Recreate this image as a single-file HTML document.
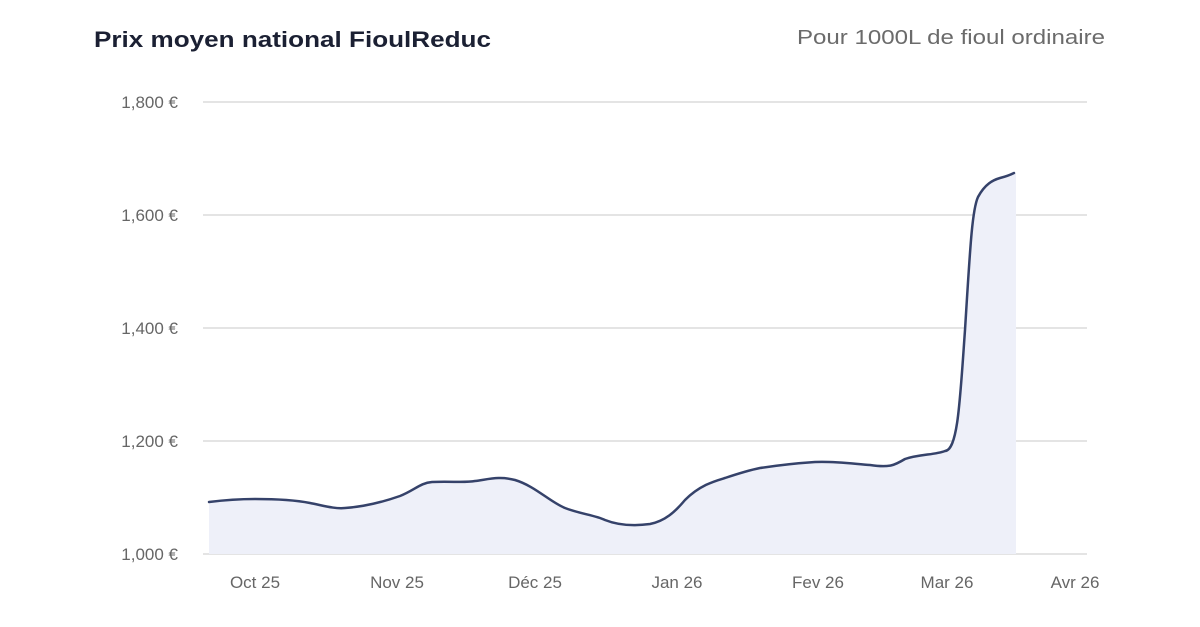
<!DOCTYPE html>
<html><head><meta charset="utf-8"><style>
html,body{margin:0;padding:0;background:#fff;width:1200px;height:627px;overflow:hidden}
svg{display:block}
</style></head><body>
<svg width="1200" height="627" viewBox="0 0 1200 627" xmlns="http://www.w3.org/2000/svg">
<text x="94" y="47" font-family="Liberation Sans, sans-serif" font-size="22" font-weight="bold" fill="#1b2033" textLength="397" lengthAdjust="spacingAndGlyphs">Prix moyen national FioulReduc</text>
<text x="797" y="44" font-family="Liberation Sans, sans-serif" font-size="20" fill="#6b6b6b" textLength="308" lengthAdjust="spacingAndGlyphs">Pour 1000L de fioul ordinaire</text>
<g stroke="#e4e4e4" stroke-width="2">
<line x1="203" y1="102" x2="1087" y2="102"/>
<line x1="203" y1="215" x2="1087" y2="215"/>
<line x1="203" y1="328" x2="1087" y2="328"/>
<line x1="203" y1="441" x2="1087" y2="441"/>
<line x1="203" y1="554" x2="1087" y2="554"/>
</g>
<g font-family="Liberation Sans, sans-serif" font-size="17" fill="#666" text-anchor="end">
<text x="178" y="108">1,800 €</text>
<text x="178" y="221">1,600 €</text>
<text x="178" y="334">1,400 €</text>
<text x="178" y="447">1,200 €</text>
<text x="178" y="560">1,000 €</text>
</g>
<g font-family="Liberation Sans, sans-serif" font-size="17" fill="#666" text-anchor="middle">
<text x="255" y="588">Oct 25</text>
<text x="397" y="588">Nov 25</text>
<text x="535" y="588">Déc 25</text>
<text x="677" y="588">Jan 26</text>
<text x="818" y="588">Fev 26</text>
<text x="947" y="588">Mar 26</text>
<text x="1075" y="588">Avr 26</text>
</g>
<path d="M209,502 C225,500 240,499 255,499 C275,499 295,500 310,503 C325,506 335,509 345,508 C360,507 380,503 400,496 C415,490 420,483 432,482 C450,481 465,483 475,481 C490,479 500,476 515,480 C535,486 550,502 565,508 C580,514 595,515 605,520 C620,526 635,526 650,524 C665,521 675,512 685,500 C700,485 715,481 725,478 C740,473 750,470 760,468 C780,465 800,463 815,462 C835,461 855,464 870,465 C890,468 895,465 905,459 C920,454 935,455 945,451 C958,450 960,400 965,330 C970,250 972,210 978,197 C985,184 993,180 1000,178 C1008,176 1012,174 1014,173 L1016,173 L1016,554 L209,554 Z" fill="#eef0f9"/>
<path d="M209,502 C225,500 240,499 255,499 C275,499 295,500 310,503 C325,506 335,509 345,508 C360,507 380,503 400,496 C415,490 420,483 432,482 C450,481 465,483 475,481 C490,479 500,476 515,480 C535,486 550,502 565,508 C580,514 595,515 605,520 C620,526 635,526 650,524 C665,521 675,512 685,500 C700,485 715,481 725,478 C740,473 750,470 760,468 C780,465 800,463 815,462 C835,461 855,464 870,465 C890,468 895,465 905,459 C920,454 935,455 945,451 C958,450 960,400 965,330 C970,250 972,210 978,197 C985,184 993,180 1000,178 C1008,176 1012,174 1014,173" fill="none" stroke="#35426a" stroke-width="2.5" stroke-linejoin="round" stroke-linecap="round"/>
</svg>
</body></html>
